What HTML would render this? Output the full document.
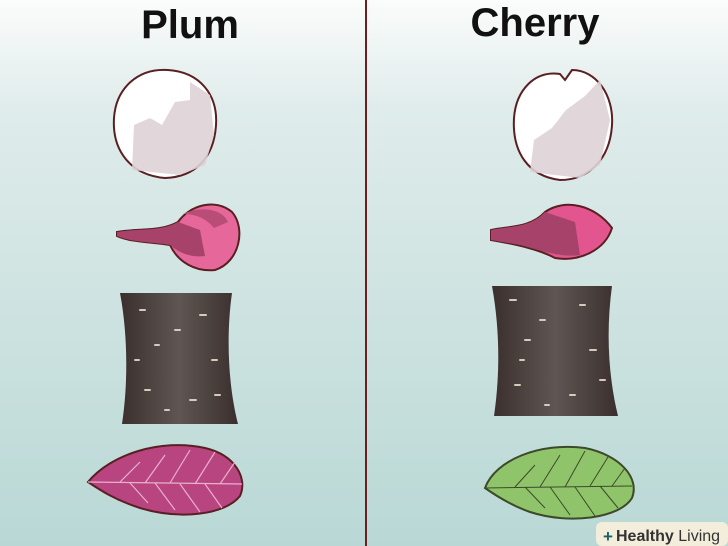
<!DOCTYPE html>
<html><head><style>
html,body{margin:0;padding:0;width:728px;height:546px;overflow:hidden}
</style></head><body>
<svg width="728" height="546" viewBox="0 0 728 546" xmlns="http://www.w3.org/2000/svg">
<defs>
<linearGradient id="bg" x1="0" y1="0" x2="0" y2="1">
<stop offset="0" stop-color="#fbfcfb"/><stop offset="0.2" stop-color="#dfeceb"/><stop offset="1" stop-color="#b9d8d5"/>
</linearGradient>
<linearGradient id="bark" x1="0" y1="0" x2="1" y2="0">
<stop offset="0" stop-color="#3a2f2d"/><stop offset="0.5" stop-color="#5f5653"/><stop offset="1" stop-color="#3a2f2d"/>
</linearGradient>
</defs>
<rect width="728" height="546" fill="url(#bg)"/>
<line x1="366" y1="0" x2="366" y2="546" stroke="#6b1f1f" stroke-width="2"/>
<text x="190" y="38" text-anchor="middle" font-family="Liberation Sans,sans-serif" font-weight="bold" font-size="40" fill="#111">Plum</text>
<text x="535" y="36" text-anchor="middle" font-family="Liberation Sans,sans-serif" font-weight="bold" font-size="40" fill="#111">Cherry</text>
<!-- petals -->
<path d="M165 178 C130 175 112 150 114 118 C116 88 138 68 168 70 C200 72 218 95 216 125 C214 158 195 177 165 178Z" fill="#fff" stroke="#5a1f22" stroke-width="2"/>
<path d="M132 170 L134 125 L150 118 L162 125 L175 102 L190 100 L190 82 L210 95 L214 135 L205 165 L180 175Z" fill="#ded2d6" opacity="0.9"/>
<path d="M560 180 C528 176 512 152 514 118 C516 90 535 70 560 74 L565 80 L572 70 C596 70 614 95 612 125 C610 158 590 180 560 180Z" fill="#fff" stroke="#5a1f22" stroke-width="2"/>
<path d="M530 172 L534 140 L552 128 L566 110 L585 96 L600 80 L610 120 L600 165 L580 178Z" fill="#ded2d6" opacity="0.9"/>
<!-- buds -->
<path d="M117 232 C140 228 160 232 178 222 C190 205 215 198 232 212 C246 228 240 262 215 270 C195 272 178 262 170 245 C150 242 130 242 117 236Z" fill="#e6679a" stroke="#5a1f22" stroke-width="2"/>
<path d="M117 232 C140 228 160 232 178 222 L200 230 L205 256 C190 258 178 252 170 245 C150 242 130 242 117 236Z" fill="#a7436a"/>
<path d="M183 214 C200 206 222 208 228 222 L214 228 C206 218 195 214 183 214Z" fill="#b84d78"/>
<path d="M491 230 C510 226 530 228 545 212 C565 198 595 205 612 228 C605 250 580 262 555 258 C540 250 520 245 491 240Z" fill="#e3558e" stroke="#5a1f22" stroke-width="2"/>
<path d="M491 230 C510 226 530 228 545 212 L575 222 L580 255 C560 258 540 250 520 245 L491 240Z" fill="#a7436a"/>
<!-- bark -->
<path d="M120 293 L232 293 C226 335 228 385 238 424 L122 424 C128 385 128 335 120 293Z" fill="url(#bark)"/>
<path d="M492 286 L612 286 C606 330 608 375 618 416 L494 416 C500 375 500 330 492 286Z" fill="url(#bark)"/>
<g stroke="#d8c9b8" stroke-width="2" stroke-linecap="round">
<path d="M140 310h5M200 315h6M155 345h4M212 360h5M145 390h5M190 400h6M165 410h4M135 360h4M215 395h5M175 330h5"/>
<path d="M510 300h6M580 305h5M525 340h5M590 350h6M515 385h5M570 395h5M545 405h4M600 380h5M540 320h5M520 360h4"/>
</g>
<!-- leaves -->
<path d="M88 482 C110 455 160 438 205 448 C235 455 248 478 240 496 C225 515 180 520 140 508 C115 500 100 490 88 482Z" fill="#b8457f" stroke="#5a1f22" stroke-width="2"/>
<g stroke="#e8b0cc" stroke-width="1.2" fill="none">
<path d="M88 482 L242 484"/>
<path d="M120 482 L140 462M145 483 L165 455M170 483 L190 450M195 484 L215 452M220 484 L235 462M130 483 L148 503M155 483 L175 510M180 484 L200 512M205 484 L222 508"/>
</g>
<path d="M485 488 C495 460 540 442 585 448 C620 455 640 478 632 498 C620 518 570 525 530 512 C510 505 495 495 485 488Z" fill="#8fc46a" stroke="#3d4a2a" stroke-width="2"/>
<g stroke="#3d4a2a" stroke-width="1" fill="none">
<path d="M485 488 L632 486"/>
<path d="M515 487 L535 465M540 487 L560 455M565 487 L585 451M590 486 L608 457M612 486 L625 468M525 487 L545 508M550 487 L570 515M575 487 L595 516M600 486 L618 508"/>
</g>
<!-- logo -->
<rect x="596" y="522" width="132" height="24" rx="6" fill="#f3eedc"/>
<text x="603" y="542" font-family="Liberation Sans,sans-serif" font-weight="bold" font-size="17" fill="#1f5f66">+</text>
<text x="616" y="541" font-family="Liberation Sans,sans-serif" font-size="16" fill="#333"><tspan font-weight="bold">Healthy</tspan> Living</text>
</svg>
</body></html>
